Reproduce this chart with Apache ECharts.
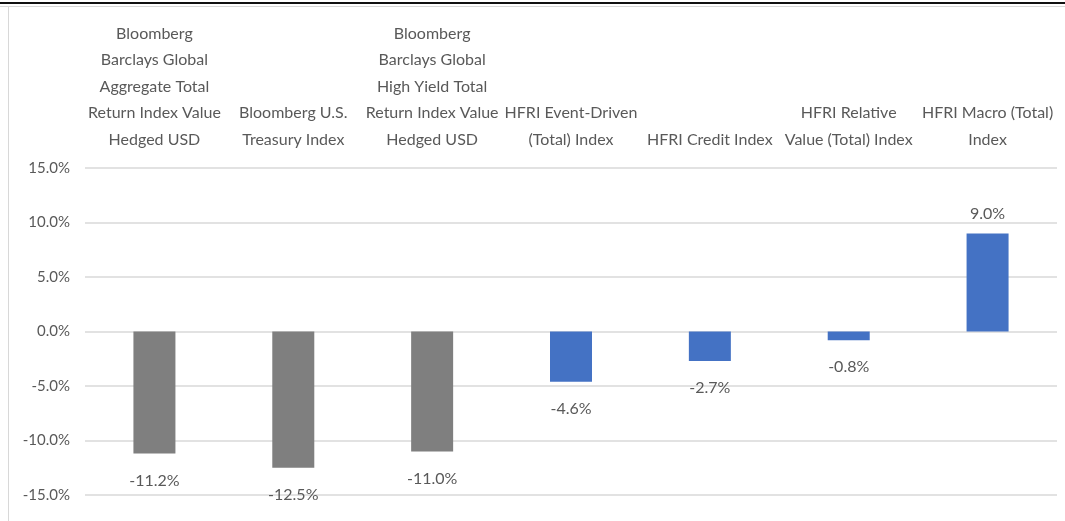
<!DOCTYPE html>
<html>
<head>
<meta charset="utf-8">
<script src="https://cdn.jsdelivr.net/npm/echarts@6/dist/echarts.min.js"></script>
<style>
  html, body { margin: 0; padding: 0; background: #fff; }
  #wrap { position: relative; width: 1065px; height: 521px; overflow: hidden; }
  #chart { position: absolute; left: 0; top: 0; width: 1065px; height: 521px; }
  .topline { position: absolute; left: 0; top: 2px; width: 1065px; height: 2px; background: #111; }
  .topline2 { position: absolute; left: 0; top: 6px; width: 1065px; height: 1px; background: #d8d8d8; }
  .leftline { position: absolute; left: 8px; top: 7px; width: 1px; height: 514px; background: #d8d8d8; }
</style>
</head>
<body>
<div id="wrap">
  <div id="chart"></div>
  <div class="topline"></div>
  <div class="topline2"></div>
  <div class="leftline"></div>
</div>
<script>
const categories = [
  'Bloomberg\nBarclays Global\nAggregate Total\nReturn Index Value\nHedged USD',
  'Bloomberg U.S.\nTreasury Index',
  'Bloomberg\nBarclays Global\nHigh Yield Total\nReturn Index Value\nHedged USD',
  'HFRI Event-Driven\n(Total) Index',
  'HFRI Credit Index',
  'HFRI Relative\nValue (Total) Index',
  'HFRI Macro (Total)\nIndex'
];
const returns = [-11.2, -12.5, -11.0, -4.6, -2.7, -0.8, 9.0];
const indexGroup = ['bond', 'bond', 'bond', 'hedge', 'hedge', 'hedge', 'hedge'];
const yTicks = [-15, -10, -5, 0, 5, 10, 15];

const groupColor = { bond: '#7f7f7f', hedge: '#4472c4' };
const FONT = 'Lato, "Open Sans", sans-serif';
const TXT = '#595959';

const chart = echarts.init(document.getElementById('chart'), null, { renderer: 'canvas' });
chart.setOption({
  animation: false,
  grid: { left: 85, right: 8, top: 168, bottom: 26 },
  xAxis: {
    type: 'category',
    position: 'top',
    data: categories,
    axisLine: { show: false },
    axisTick: { show: false },
    axisLabel: {
      interval: 0,
      margin: 15,
      color: TXT,
      fontFamily: FONT,
      fontSize: 16,
      lineHeight: 26.5,
      align: 'center'
    }
  },
  yAxis: {
    type: 'value',
    min: yTicks[0],
    max: yTicks[yTicks.length - 1],
    interval: 5,
    axisLine: { show: false },
    axisTick: { show: false },
    splitLine: { lineStyle: { color: '#d9d9d9', width: 1.5 } },
    axisLabel: {
      margin: 15,
      color: TXT,
      fontFamily: FONT,
      fontSize: 15,
      formatter: v => v.toFixed(1) + '%'
    }
  },
  series: [{
    type: 'bar',
    barWidth: 42,
    data: returns.map((v, i) => ({
      value: v,
      itemStyle: { color: groupColor[indexGroup[i]] },
      label: { position: v < 0 ? 'bottom' : 'top', distance: v < 0 ? 19 : 12 }
    })),
    label: {
      show: true,
      color: TXT,
      fontFamily: FONT,
      fontSize: 16,
      formatter: p => p.value.toFixed(1) + '%'
    }
  }]
});
</script>
</body>
</html>
